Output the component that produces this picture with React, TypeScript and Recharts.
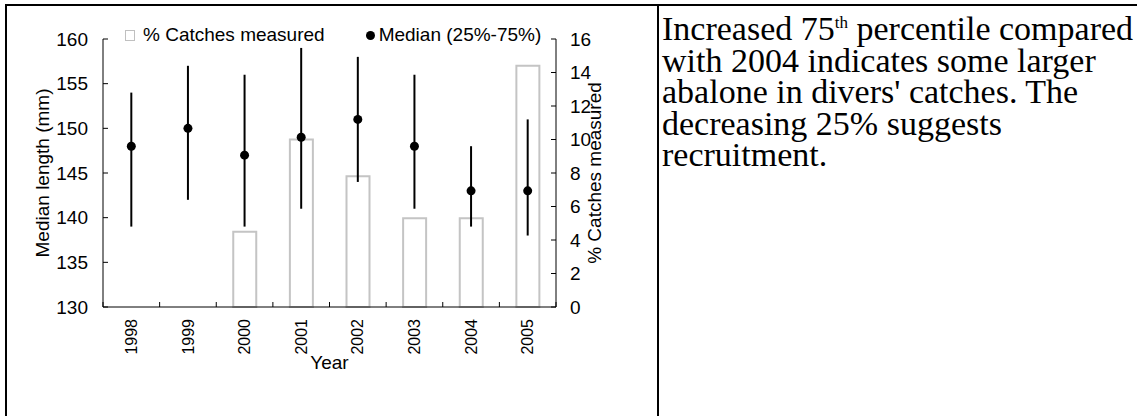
import React from "react";
import {
  ComposedChart,
  Bar,
  Line,
  ErrorBar,
  XAxis,
  YAxis,
  Legend,
  Label,
} from "recharts";

const years = ["1998", "1999", "2000", "2001", "2002", "2003", "2004", "2005"];
const medianLength = [148, 150, 147, 149, 151, 148, 143, 143];
const lowerQuartile = [139, 142, 139, 141, 144, 141, 139, 138];
const upperQuartile = [154, 157, 156, 159, 158, 156, 148, 151];
const pctMeasured = [null, null, 4.5, 10, 7.8, 5.3, 5.3, 14.4];

const lengthTicks = [130, 135, 140, 145, 150, 155, 160];
const pctTicks = [0, 2, 4, 6, 8, 10, 12, 14, 16];

const data = years.map((year, i) => ({
  year,
  median: medianLength[i],
  iqr: [medianLength[i] - lowerQuartile[i], upperQuartile[i] - medianLength[i]],
  pct: pctMeasured[i],
}));

const sans = "'Liberation Sans', Arial, sans-serif";

// chart box and axis widths (plot spans LEFT_W .. CHART_W - RIGHT_W)
const CHART_W = 657;
const CHART_H = 416;
const LEFT_W = 103;
const RIGHT_W = 101;
const BAND = (CHART_W - LEFT_W - RIGHT_W) / years.length;

// rotated year label, plus inward tick marks on the category boundaries
function YearTick({ x, y, payload, index, visibleTicksCount }: any) {
  const half = BAND / 2;
  const last = index === visibleTicksCount - 1;
  return (
    <g>
      <line x1={x - half} x2={x - half} y1={y} y2={y - 5} stroke="#000" />
      {last && <line x1={x + half} x2={x + half} y1={y} y2={y - 5} stroke="#000" />}
      <g transform={`translate(${x},${y + 12})`}>
        <text
          transform="rotate(-90)"
          textAnchor="end"
          dy="0.35em"
          fontSize={16}
          fontFamily={sans}
          fill="#000"
        >
          {payload.value}
        </text>
      </g>
    </g>
  );
}

function KeyContent({ payload }: any) {
  return (
    <div
      style={{
        display: "flex",
        alignItems: "center",
        fontFamily: sans,
        fontSize: 19,
        color: "#000",
        whiteSpace: "nowrap",
      }}
    >
      {(payload || []).map((entry: any, i: number) => (
        <div
          key={entry.value}
          style={{ display: "flex", alignItems: "center", marginLeft: i ? 41 : 0 }}
        >
          {entry.dataKey === "pct" ? (
            <span
              style={{
                width: 8,
                height: 9,
                border: "1.5px solid #c0c0c0",
                background: "#fff",
                marginRight: 8,
              }}
            />
          ) : (
            <span
              style={{
                width: 9,
                height: 9,
                borderRadius: "50%",
                background: "#000",
                marginRight: 4,
              }}
            />
          )}
          <span>{entry.value}</span>
        </div>
      ))}
    </div>
  );
}

function CatchChart() {
  return (
    <ComposedChart
      width={CHART_W}
      height={CHART_H}
      data={data}
      margin={{ top: 39, right: 0, bottom: 0, left: 0 }}
      style={{ fontFamily: sans }}
    >
      <XAxis
        dataKey="year"
        height={109}
        stroke="#000"
        tickLine={false}
        tickSize={0}
        tickMargin={0}
        interval={0}
        tick={<YearTick />}
      >
        <Label
          value="Year"
          position="insideBottom"
          offset={47}
          fontSize={19}
          fill="#000"
        />
      </XAxis>
      <YAxis
        yAxisId="len"
        orientation="left"
        width={LEFT_W}
        domain={[130, 160]}
        ticks={lengthTicks}
        tickSize={-5}
        tickMargin={20}
        stroke="#000"
        tick={{ fill: "#000", fontSize: 19 }}
      >
        <Label
          value="Median length (mm)"
          angle={-90}
          position="center"
          dx={-9}
          fontSize={19}
          fill="#000"
        />
      </YAxis>
      <YAxis
        yAxisId="pct"
        orientation="right"
        width={RIGHT_W}
        domain={[0, 16]}
        ticks={pctTicks}
        tickSize={-5}
        tickMargin={19}
        stroke="#000"
        tick={{ fill: "#000", fontSize: 19 }}
      >
        <Label
          value="% Catches measured"
          angle={-90}
          position="center"
          dx={-12}
          fontSize={19}
          fill="#000"
        />
      </YAxis>

      <Legend
        layout="horizontal"
        align="center"
        verticalAlign="middle"
        content={<KeyContent />}
        wrapperStyle={{ top: 24, left: 125, width: "auto" }}
      />

      <Bar
        yAxisId="pct"
        dataKey="pct"
        name="% Catches measured"
        barSize={23}
        fill="#fff"
        stroke="#c4c4c4"
        strokeWidth={2}
        isAnimationActive={false}
      />
      <Line
        yAxisId="len"
        dataKey="median"
        name="Median (25%-75%)"
        stroke="none"
        dot={{ r: 4.5, fill: "#000", stroke: "none" }}
        activeDot={false}
        isAnimationActive={false}
      >
        <ErrorBar dataKey="iqr" width={0} stroke="#000" strokeWidth={2} />
      </Line>
    </ComposedChart>
  );
}

export default function App() {
  return (
    <div
      style={{
        position: "absolute",
        left: 0,
        top: 0,
        width: 1137,
        height: 416,
        background: "#fff",
        overflow: "hidden",
      }}
    >
      <div style={{ position: "absolute", left: 0, top: 0 }}>
        <CatchChart />
      </div>

      {/* table frame */}
      <div style={{ position: "absolute", left: 5, top: 4, width: 1132, height: 2, background: "#000" }} />
      <div style={{ position: "absolute", left: 5, top: 4, width: 2, height: 412, background: "#000" }} />
      <div style={{ position: "absolute", left: 657, top: 4, width: 2, height: 412, background: "#000" }} />

      <div
        style={{
          position: "absolute",
          left: 662,
          top: 13,
          fontFamily: "'Liberation Serif', 'Times New Roman', serif",
          fontSize: 34,
          lineHeight: "31.6px",
          color: "#000",
          whiteSpace: "nowrap",
        }}
      >
        Increased 75<sup style={{ fontSize: "0.5em", lineHeight: 0 }}>th</sup> percentile compared
        <br />
        with 2004 indicates some larger
        <br />
        abalone in divers' catches. The
        <br />
        decreasing 25% suggests
        <br />
        recruitment.
      </div>
    </div>
  );
}
